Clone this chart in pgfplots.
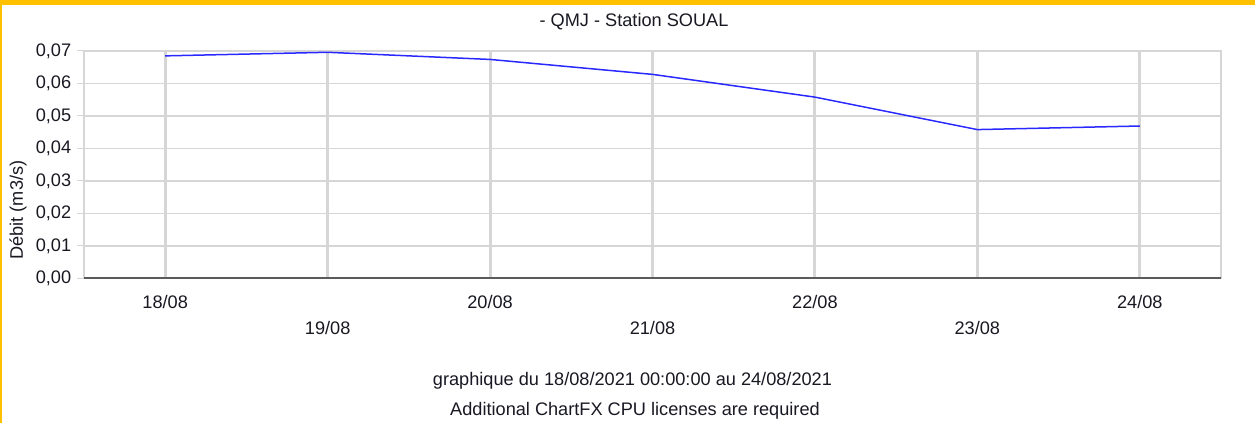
\documentclass[border=0pt]{standalone}
\usepackage{pgfplots}
\pgfplotsset{compat=1.18}
\usepackage{fontspec}
\setmainfont{Liberation Sans}
\definecolor{ybord}{RGB}{255,192,0}
\definecolor{gridc}{RGB}{214,214,214}
\definecolor{linec}{RGB}{40,40,255}
\definecolor{txt}{RGB}{25,25,35}
\definecolor{axc}{RGB}{90,90,90}
\begin{document}
\begin{tikzpicture}[font=\fontsize{10.9}{13}\selectfont, text=txt]
\useasboundingbox (0,0) rectangle (753pt,253.8pt);
\fill[white] (0,0) rectangle (753pt,253.8pt);
\begin{axis}[
  scale only axis,
  width=682.2pt, height=136.4pt,
  at={(50.4pt,86.8pt)}, anchor=south west,
  xmin=-0.5, xmax=6.5, ymin=0, ymax=0.07,
  xtick={0,2,4,6},
  xticklabels={18/08,20/08,22/08,24/08},
  extra x ticks={1,3,5},
  extra x tick labels={19/08,21/08,23/08},
  extra x tick style={grid=major, major grid style={gridc, line width=1.8pt},
     xticklabel style={yshift=-15.6pt}, xtick style={draw=none}},
  xticklabel style={yshift=-2.6pt},
  ytick={0,0.01,...,0.07},
  yticklabel style={/pgf/number format/.cd, fixed, fixed zerofill, precision=2, use comma, assume math mode=true},
  scaled y ticks=false,
  xmajorgrids, ymajorgrids,
  x grid style={gridc, line width=1.8pt},
  y grid style={gridc, line width=0.9pt},
  axis line style={gridc, line width=0.9pt},
  tick pos=left,
  tick align=outside,
  ytick style={gridc, line width=0.6pt},
  major tick length=4.2pt,
  xtick style={draw=none},
  ticklabel style={text=txt},
  ylabel={Débit (m3/s)},
  ylabel style={at={(axis description cs:-0.058,0.30)}, anchor=center, text=txt},
  clip=false,
]
\addplot[linec, line width=0.9pt] coordinates {
 (0,0.0685) (1,0.0696) (2,0.0674) (3,0.0628) (4,0.0558) (5,0.0458) (6,0.0469)
};
\draw[axc, line width=1.4pt] (axis cs:-0.5,0) -- (axis cs:6.5,0);
\end{axis}
\fill[ybord] (0,250.8pt) rectangle (753pt,253.8pt);
\fill[ybord] (0,0) rectangle (1.2pt,253.8pt);
\node at (380.4pt,240.6pt) {- QMJ - Station SOUAL};
\node at (379.5pt,25.2pt) {graphique du 18/08/2021 00:00:00 au 24/08/2021};
\node at (381pt,7.2pt) {Additional ChartFX CPU licenses are required};
\end{tikzpicture}
\end{document}
